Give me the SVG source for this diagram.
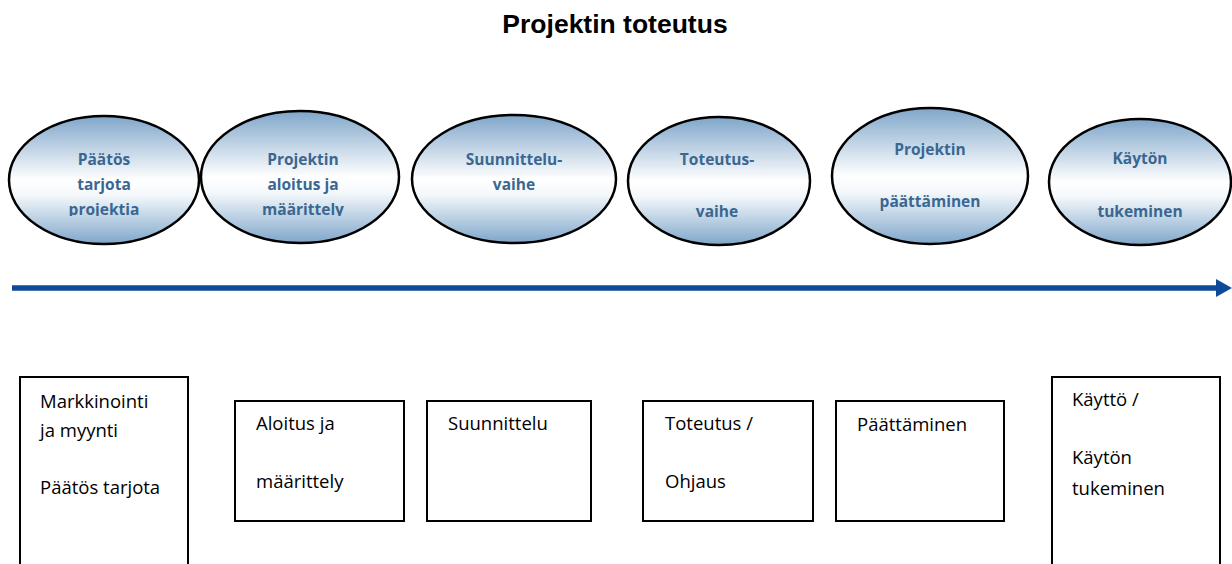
<svg xmlns="http://www.w3.org/2000/svg" width="1232" height="564" viewBox="0 0 1232 564">
  <defs>
    <linearGradient id="phaseFill" x1="0" y1="0" x2="0" y2="1">
      <stop offset="0" stop-color="#7fa6ca"/>
      <stop offset="0.5" stop-color="#ffffff"/>
      <stop offset="0.62" stop-color="#f4f8fb"/>
      <stop offset="1" stop-color="#7fa6ca"/>
    </linearGradient>
    <marker id="arrowHead" markerUnits="userSpaceOnUse" markerWidth="16" markerHeight="18" refX="0" refY="9" orient="auto">
      <path d="M0,0 L16,9 L0,18 Z" fill="#0f4a9a"/>
    </marker>
    <clipPath id="labelClip">
      <rect x="0" y="130" width="1232" height="86"/>
    </clipPath>
    <style>
      .phase { fill: url(#phaseFill); stroke: #000; stroke-width: 2.5; }
      .phaseText { font-family: "Open Sans", "Lato", sans-serif; font-weight: bold; font-size: 15.5px; fill: #3a6791; text-anchor: middle; }
      .task { fill: #fff; stroke: #000; stroke-width: 2; }
      .taskText { font-family: "Open Sans", "Lato", sans-serif; font-size: 18.5px; fill: #000; }
      .title { font-family: "Liberation Sans", Arial, sans-serif; font-weight: bold; font-size: 26.5px; fill: #000; text-anchor: middle; }
    </style>
  </defs>

  <rect width="1232" height="564" fill="#fff"/>

  <text class="title" x="615" y="33">Projektin toteutus</text>

  <!-- phase ellipses -->
  <g id="phase-paatos">
    <ellipse class="phase" cx="104" cy="180" rx="95" ry="64"/>
    <g clip-path="url(#labelClip)">
      <text class="phaseText" x="104" y="165">Päätös</text>
      <text class="phaseText" x="104" y="190">tarjota</text>
      <text class="phaseText" x="104" y="215">projektia</text>
    </g>
  </g>
  <g id="phase-aloitus">
    <ellipse class="phase" cx="300" cy="177" rx="99" ry="66"/>
    <g clip-path="url(#labelClip)">
      <text class="phaseText" x="303" y="165">Projektin</text>
      <text class="phaseText" x="303" y="190">aloitus ja</text>
      <text class="phaseText" x="303" y="215">määrittely</text>
    </g>
  </g>
  <g id="phase-suunnittelu">
    <ellipse class="phase" cx="514" cy="179" rx="102" ry="64"/>
    <text class="phaseText" x="514" y="165">Suunnittelu-</text>
    <text class="phaseText" x="514" y="190">vaihe</text>
  </g>
  <g id="phase-toteutus">
    <ellipse class="phase" cx="719" cy="181" rx="91" ry="64"/>
    <text class="phaseText" x="717" y="165">Toteutus-</text>
    <text class="phaseText" x="717" y="217">vaihe</text>
  </g>
  <g id="phase-paattaminen">
    <ellipse class="phase" cx="930" cy="176" rx="98" ry="68"/>
    <text class="phaseText" x="930" y="155">Projektin</text>
    <text class="phaseText" x="930" y="207">päättäminen</text>
  </g>
  <g id="phase-tukeminen">
    <ellipse class="phase" cx="1140" cy="182" rx="91" ry="63"/>
    <text class="phaseText" x="1140" y="164">Käytön</text>
    <text class="phaseText" x="1140" y="217">tukeminen</text>
  </g>

  <!-- timeline -->
  <g id="connectors">
    <line x1="12" y1="288" x2="1216" y2="288" stroke="#0f4a9a" stroke-width="5.5" marker-end="url(#arrowHead)"/>
  </g>

  <!-- task boxes -->
  <g id="task-markkinointi">
    <rect class="task" x="20" y="377" width="168" height="200"/>
    <text class="taskText" x="40" y="408">Markkinointi</text>
    <text class="taskText" x="40" y="437">ja myynti</text>
    <text class="taskText" x="40" y="494">Päätös tarjota</text>
  </g>
  <g id="task-aloitus">
    <rect class="task" x="235" y="401" width="169" height="120"/>
    <text class="taskText" x="256" y="430">Aloitus ja</text>
    <text class="taskText" x="256" y="488">määrittely</text>
  </g>
  <g id="task-suunnittelu">
    <rect class="task" x="427" y="401" width="164" height="120"/>
    <text class="taskText" x="448" y="430">Suunnittelu</text>
  </g>
  <g id="task-toteutus">
    <rect class="task" x="643" y="401" width="170" height="120"/>
    <text class="taskText" x="665" y="430">Toteutus /</text>
    <text class="taskText" x="665" y="488">Ohjaus</text>
  </g>
  <g id="task-paattaminen">
    <rect class="task" x="836" y="401" width="168" height="120"/>
    <text class="taskText" x="857" y="431">Päättäminen</text>
  </g>
  <g id="task-kaytto">
    <rect class="task" x="1052" y="377" width="168" height="200"/>
    <text class="taskText" x="1072" y="406">Käyttö /</text>
    <text class="taskText" x="1072" y="464">Käytön</text>
    <text class="taskText" x="1072" y="495">tukeminen</text>
  </g>
</svg>
